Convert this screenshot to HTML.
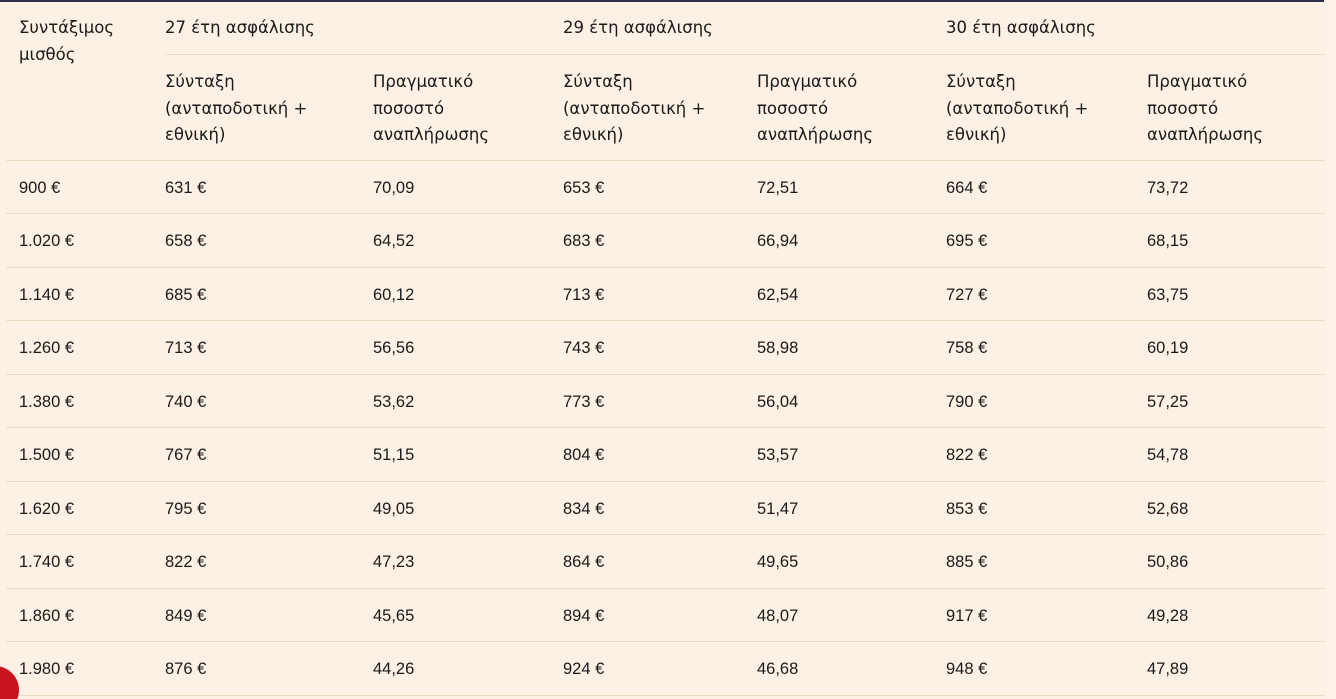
<!DOCTYPE html>
<html style="overflow:hidden;width:1336px;height:699px"><head><meta charset="utf-8"><style>
body{margin:0;width:1336px;height:699px;background:#fdf0e4;overflow:hidden;position:relative;font-family:"Liberation Sans","DejaVu Sans",sans-serif;font-size:16.5px;color:#1a1a1a}
.top{position:absolute;left:0;top:0;width:1324px;height:2px;background:#2b2f4a}
.edge{position:absolute;left:1326px;top:0;width:10px;height:699px;background:#fdf3ea}
.hl{position:absolute;height:1px;background:#efd9c3}
.r{position:absolute;left:0;height:53px;width:1324px}
.r span{position:absolute;top:1px;line-height:53px}
.h{position:absolute;line-height:26.5px;font-family:"DejaVu Sans",sans-serif;font-size:16.5px}
.c{position:absolute;left:-29px;top:666px;width:48px;height:48px;border-radius:50%;background:#c8141e}
</style></head><body>
<div class="top"></div><div class="edge"></div>
<div class="h" style="left:19px;top:15px">Συντάξιμος<br>μισθός</div>
<div class="h" style="left:165px;top:15px">27 έτη ασφάλισης</div>
<div class="h" style="left:563px;top:15px">29 έτη ασφάλισης</div>
<div class="h" style="left:946px;top:15px">30 έτη ασφάλισης</div>
<div class="hl" style="left:165px;top:54px;width:1160px"></div>
<div class="h" style="left:165px;top:69px">Σύνταξη<br>(ανταποδοτική +<br>εθνική)</div>
<div class="h" style="left:373px;top:69px">Πραγματικό<br>ποσοστό<br>αναπλήρωσης</div>
<div class="h" style="left:563px;top:69px">Σύνταξη<br>(ανταποδοτική +<br>εθνική)</div>
<div class="h" style="left:757px;top:69px">Πραγματικό<br>ποσοστό<br>αναπλήρωσης</div>
<div class="h" style="left:946px;top:69px">Σύνταξη<br>(ανταποδοτική +<br>εθνική)</div>
<div class="h" style="left:1147px;top:69px">Πραγματικό<br>ποσοστό<br>αναπλήρωσης</div>
<div class="hl" style="left:6px;top:160px;width:1319px"></div>
<div class="hl" style="left:6px;top:213px;width:1319px"></div>
<div class="hl" style="left:6px;top:267px;width:1319px"></div>
<div class="hl" style="left:6px;top:320px;width:1319px"></div>
<div class="hl" style="left:6px;top:374px;width:1319px"></div>
<div class="hl" style="left:6px;top:427px;width:1319px"></div>
<div class="hl" style="left:6px;top:481px;width:1319px"></div>
<div class="hl" style="left:6px;top:534px;width:1319px"></div>
<div class="hl" style="left:6px;top:588px;width:1319px"></div>
<div class="hl" style="left:6px;top:641px;width:1319px"></div>
<div class="hl" style="left:6px;top:695px;width:1319px"></div>
<div class="r" style="top:161px"><span style="left:19px">900 €</span><span style="left:165px">631 €</span><span style="left:373px">70,09</span><span style="left:563px">653 €</span><span style="left:757px">72,51</span><span style="left:946px">664 €</span><span style="left:1147px">73,72</span></div>
<div class="r" style="top:214px"><span style="left:19px">1.020 €</span><span style="left:165px">658 €</span><span style="left:373px">64,52</span><span style="left:563px">683 €</span><span style="left:757px">66,94</span><span style="left:946px">695 €</span><span style="left:1147px">68,15</span></div>
<div class="r" style="top:268px"><span style="left:19px">1.140 €</span><span style="left:165px">685 €</span><span style="left:373px">60,12</span><span style="left:563px">713 €</span><span style="left:757px">62,54</span><span style="left:946px">727 €</span><span style="left:1147px">63,75</span></div>
<div class="r" style="top:321px"><span style="left:19px">1.260 €</span><span style="left:165px">713 €</span><span style="left:373px">56,56</span><span style="left:563px">743 €</span><span style="left:757px">58,98</span><span style="left:946px">758 €</span><span style="left:1147px">60,19</span></div>
<div class="r" style="top:375px"><span style="left:19px">1.380 €</span><span style="left:165px">740 €</span><span style="left:373px">53,62</span><span style="left:563px">773 €</span><span style="left:757px">56,04</span><span style="left:946px">790 €</span><span style="left:1147px">57,25</span></div>
<div class="r" style="top:428px"><span style="left:19px">1.500 €</span><span style="left:165px">767 €</span><span style="left:373px">51,15</span><span style="left:563px">804 €</span><span style="left:757px">53,57</span><span style="left:946px">822 €</span><span style="left:1147px">54,78</span></div>
<div class="r" style="top:482px"><span style="left:19px">1.620 €</span><span style="left:165px">795 €</span><span style="left:373px">49,05</span><span style="left:563px">834 €</span><span style="left:757px">51,47</span><span style="left:946px">853 €</span><span style="left:1147px">52,68</span></div>
<div class="r" style="top:535px"><span style="left:19px">1.740 €</span><span style="left:165px">822 €</span><span style="left:373px">47,23</span><span style="left:563px">864 €</span><span style="left:757px">49,65</span><span style="left:946px">885 €</span><span style="left:1147px">50,86</span></div>
<div class="r" style="top:589px"><span style="left:19px">1.860 €</span><span style="left:165px">849 €</span><span style="left:373px">45,65</span><span style="left:563px">894 €</span><span style="left:757px">48,07</span><span style="left:946px">917 €</span><span style="left:1147px">49,28</span></div>
<div class="r" style="top:642px"><span style="left:19px">1.980 €</span><span style="left:165px">876 €</span><span style="left:373px">44,26</span><span style="left:563px">924 €</span><span style="left:757px">46,68</span><span style="left:946px">948 €</span><span style="left:1147px">47,89</span></div>
<div class="c"></div>
</body></html>
